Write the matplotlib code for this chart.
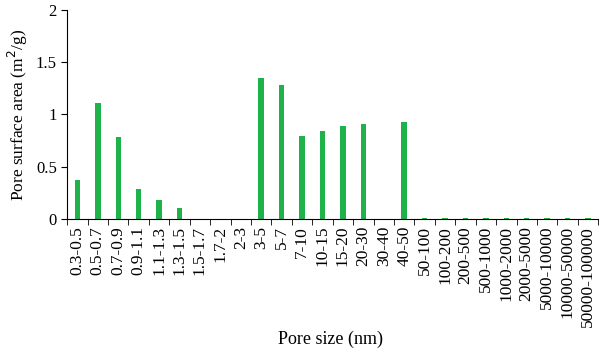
import matplotlib
matplotlib.use("Agg")
import matplotlib.pyplot as plt
import numpy as np

pore_sizes = ['0.3-0.5', '0.5-0.7', '0.7-0.9', '0.9-1.1', '1.1-1.3', '1.3-1.5',
              '1.5-1.7', '1.7-2', '2-3', '3-5', '5-7', '7-10', '10-15', '15-20',
              '20-30', '30-40', '40-50', '50-100', '100-200', '200-500',
              '500-1000', '1000-2000', '2000-5000', '5000-10000',
              '10000-50000', '50000-100000']
surface_area = [0.37, 1.11, 0.78, 0.29, 0.18, 0.11,
                0.0, 0.0, 0.0, 1.35, 1.28, 0.79, 0.84, 0.89,
                0.91, 0.0, 0.93, 0.006, 0.006, 0.006,
                0.006, 0.006, 0.006, 0.006, 0.006, 0.006]

plt.rcParams['font.family'] = ['Liberation Serif', 'DejaVu Serif']

fig = plt.figure(figsize=(6, 3.51), dpi=100)
ax = fig.add_axes([0.112, 0.376, 0.885, 0.596])

x = np.arange(len(pore_sizes))
ax.bar(x, surface_area, width=0.27, color='#1fb24a')

ax.set_xlim(-0.5, len(pore_sizes) - 0.5)
ax.set_ylim(0, 2)
ax.set_yticks([0, 0.5, 1, 1.5, 2])
ax.set_yticklabels(['0', '0.5', '1', '1.5', '2'], fontsize=12)

ax.set_xticks(x)
ax.set_xticklabels(pore_sizes, rotation=90, fontsize=12.5)
ax.tick_params(axis='x', length=0, pad=5)
ax.set_xticks(np.arange(len(pore_sizes) + 1) - 0.5, minor=True)
ax.tick_params(axis='x', which='minor', length=4, direction='out')
ax.tick_params(axis='y', length=4, direction='out')

ax.spines['top'].set_visible(False)
ax.spines['right'].set_visible(False)

ax.set_ylabel('Pore surface area (m$^2$/g)', fontsize=12.5)
fig.text(0.55, 0.02, 'Pore size (nm)', ha='center', fontsize=13)

fig.savefig('out.png', dpi=100)
